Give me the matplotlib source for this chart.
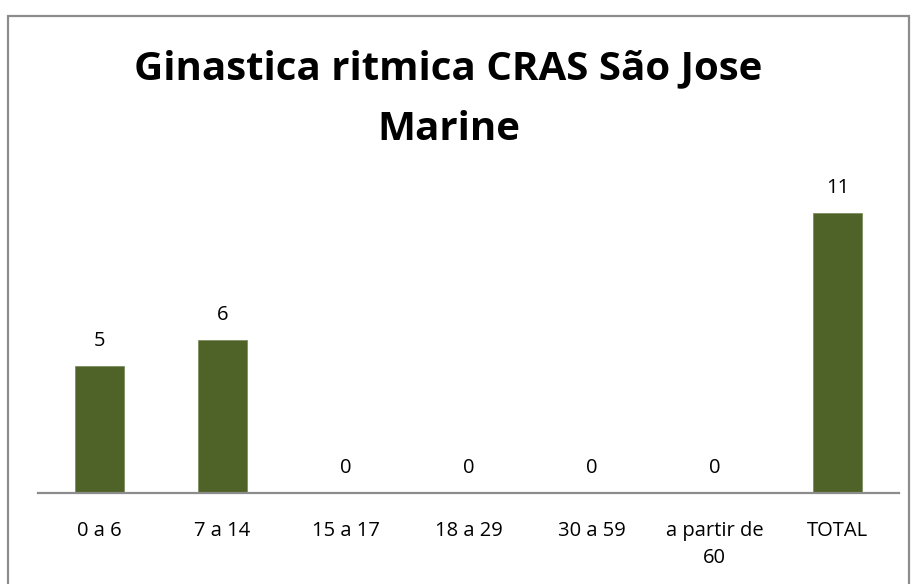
import matplotlib.pyplot as plt
from matplotlib.patches import Rectangle

plt.rcParams["font.family"] = ["Open Sans", "DejaVu Sans"]

faixas = ["0 a 6", "7 a 14", "15 a 17", "18 a 29", "30 a 59", "a partir de\n60", "TOTAL"]
alunos = [5, 6, 0, 0, 0, 0, 11]

fig = plt.figure(figsize=(9.17, 5.84), dpi=100)
ax = fig.add_axes([38 / 917, 91 / 584, 861 / 917, 306 / 584])

pos = range(len(faixas))
ax.bar(pos, alunos, width=0.4, color="#4F6228", edgecolor="#7F8F60", linewidth=0.6)
for x, v in zip(pos, alunos):
    ax.text(x, v + 0.98, str(v), ha="center", va="center", fontsize=14.5, color="#000000")

ax.set_xlim(-0.5, len(faixas) - 0.5)
ax.set_ylim(0, 12)
ax.set_xticks(list(pos))
ax.set_xticklabels(faixas, fontsize=14.5, linespacing=1.5)
ax.tick_params(axis="x", length=0, pad=20)
ax.set_yticks([])
for s in ["top", "right", "left"]:
    ax.spines[s].set_visible(False)
ax.spines["bottom"].set_color("#8C8C8C")
ax.spines["bottom"].set_linewidth(1.6)

fig.text(0.489, 1 - 99 / 584, "Ginastica ritmica CRAS São Jose\nMarine", ha="center", va="center",
         fontsize=29, fontweight="bold", linespacing=1.72)

# moldura do gráfico
fig.patches.append(Rectangle((8 / 917, -0.05), 901 / 917, 1.05 - 16 / 584, transform=fig.transFigure,
                             fill=False, edgecolor="#8C8C8C", linewidth=1.6))

fig.savefig("out.png")
